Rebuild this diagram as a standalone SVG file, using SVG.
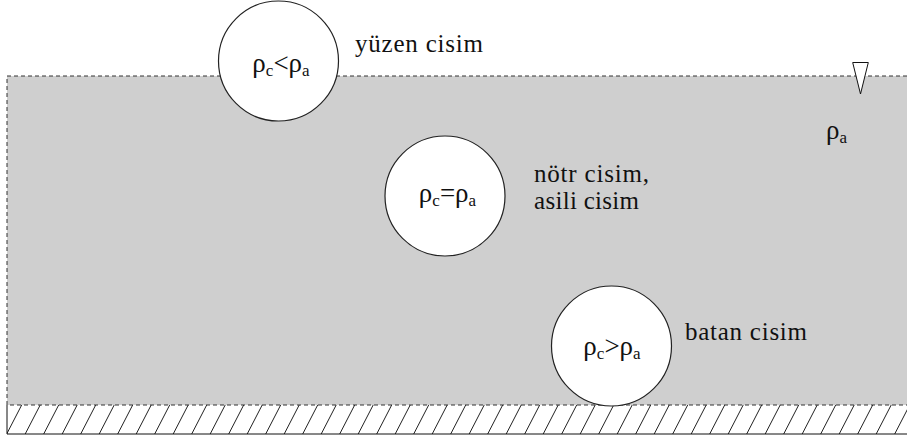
<svg xmlns="http://www.w3.org/2000/svg" width="907" height="441" viewBox="0 0 907 441">
<style>
text{font-family:'Liberation Serif','Times New Roman','DejaVu Serif',serif;fill:#111}
.lbl{font-size:25px}
.rho{font-size:27px}
.sub{font-size:17px}
.body{fill:#fff;stroke:#222;stroke-width:1.2}
.dash{fill:none;stroke:#333;stroke-width:1;stroke-dasharray:4,3}
</style>
<defs>
<clipPath id="hc"><rect x="7" y="405" width="900" height="29"/></clipPath>
</defs>
<g id="water">
<rect x="7" y="76" width="902" height="329" fill="#cfcfcf"/>
<path class="dash" d="M907,76 H7 V405 H907"/>
</g>
<g id="ground">
<g clip-path="url(#hc)" stroke="#222" stroke-width="1">
<path d="M6.7,434l15,-29M25.2,434l15,-29M43.7,434l15,-29M62.2,434l15,-29M80.7,434l15,-29M99.2,434l15,-29M117.7,434l15,-29M136.2,434l15,-29M154.7,434l15,-29M173.2,434l15,-29M191.7,434l15,-29M210.2,434l15,-29M228.7,434l15,-29M247.2,434l15,-29M265.7,434l15,-29M284.2,434l15,-29M302.7,434l15,-29M321.2,434l15,-29M339.7,434l15,-29M358.2,434l15,-29M376.7,434l15,-29M395.2,434l15,-29M413.7,434l15,-29M432.2,434l15,-29M450.7,434l15,-29M469.2,434l15,-29M487.7,434l15,-29M506.2,434l15,-29M524.7,434l15,-29M543.2,434l15,-29M561.7,434l15,-29M580.2,434l15,-29M598.7,434l15,-29M617.2,434l15,-29M635.7,434l15,-29M654.2,434l15,-29M672.7,434l15,-29M691.2,434l15,-29M709.7,434l15,-29M728.2,434l15,-29M746.7,434l15,-29M765.2,434l15,-29M783.7,434l15,-29M802.2,434l15,-29M820.7,434l15,-29M839.2,434l15,-29M857.7,434l15,-29M876.2,434l15,-29M894.7,434l15,-29"/>
</g>
<path d="M7,405 V434 H907" fill="none" stroke="#111" stroke-width="1"/>
</g>
<g id="level">
<polygon points="852.7,62.5 868.3,62.5 860.5,94" fill="#fff" stroke="#111" stroke-width="1"/>
<text class="rho" x="826" y="139">ρ<tspan class="sub" dy="4">a</tspan></text>
</g>
<g id="floating">
<circle class="body" cx="278.5" cy="61" r="60"/>
<text class="rho" x="281" y="72" text-anchor="middle">ρ<tspan class="sub" dy="4">c</tspan><tspan dy="-4">&lt;ρ</tspan><tspan class="sub" dy="4">a</tspan></text>
<text class="lbl" x="355" y="52" textLength="128" lengthAdjust="spacing">yüzen cisim</text>
</g>
<g id="neutral">
<circle class="body" cx="445" cy="196" r="60"/>
<text class="rho" x="447.5" y="202" text-anchor="middle">ρ<tspan class="sub" dy="4">c</tspan><tspan dy="-4">=ρ</tspan><tspan class="sub" dy="4">a</tspan></text>
<text class="lbl" x="534" y="182" textLength="115" lengthAdjust="spacing">nötr cisim,</text>
<text class="lbl" x="534" y="209" textLength="105" lengthAdjust="spacing">asili cisim</text>
</g>
<g id="sinking">
<circle class="body" cx="611.5" cy="346" r="60"/>
<text class="rho" x="612" y="355" text-anchor="middle">ρ<tspan class="sub" dy="4">c</tspan><tspan dy="-4">&gt;ρ</tspan><tspan class="sub" dy="4">a</tspan></text>
<text class="lbl" x="685" y="340" textLength="122" lengthAdjust="spacing">batan cisim</text>
</g>
<g id="connectors"/>
</svg>
